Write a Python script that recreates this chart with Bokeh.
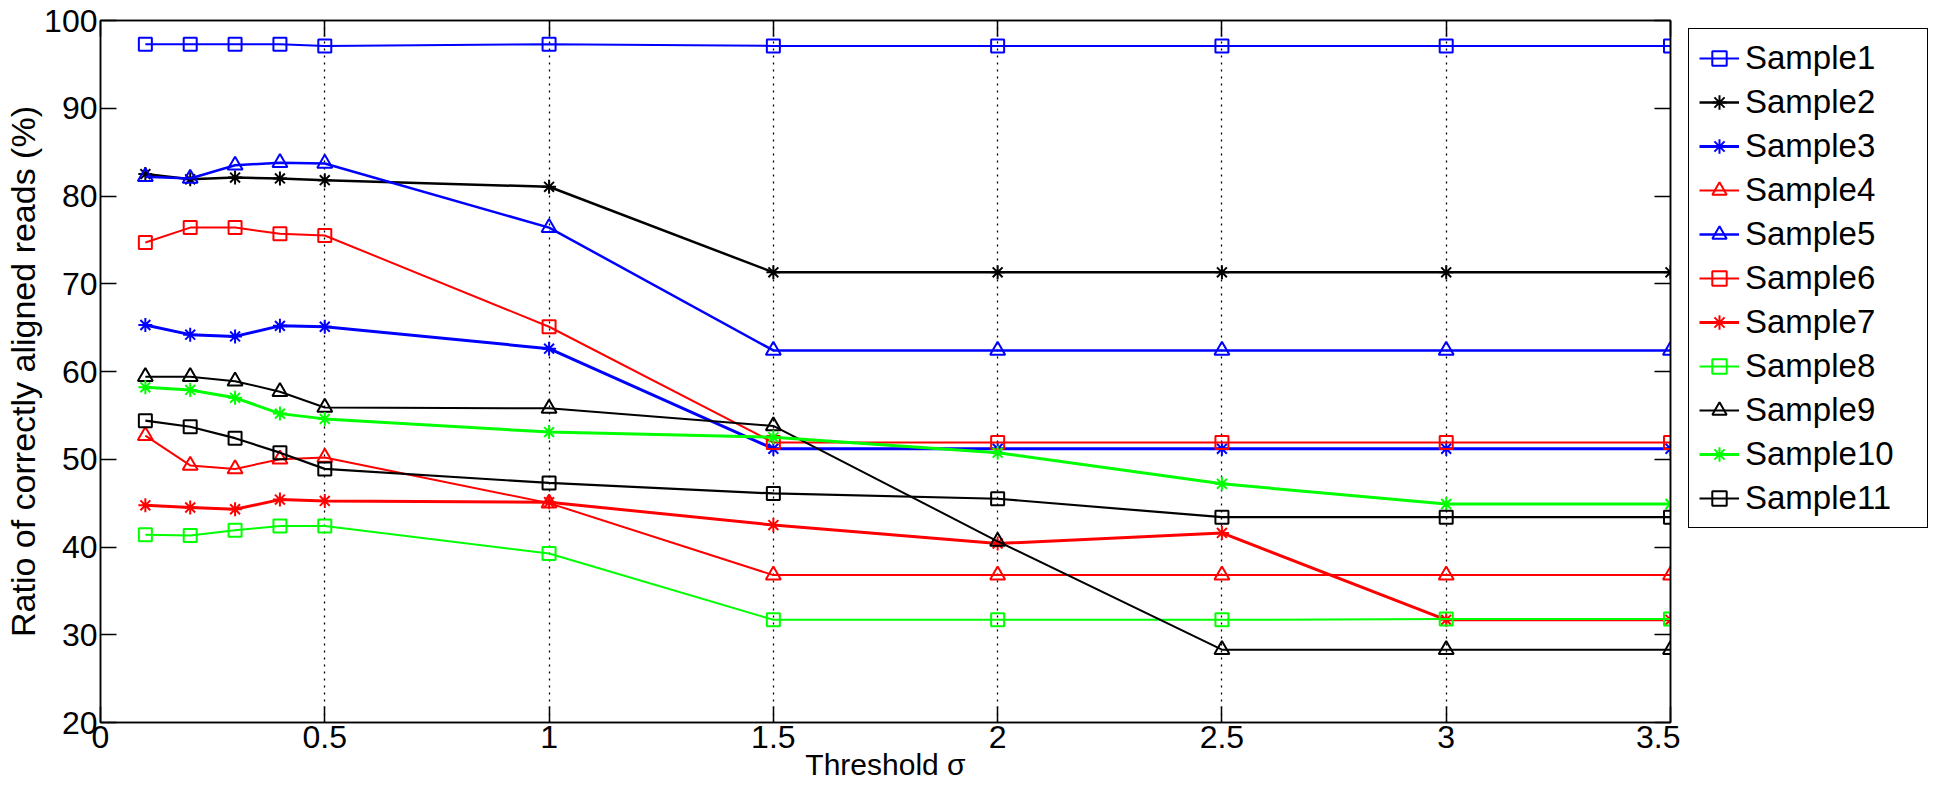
from bokeh.plotting import figure
from bokeh.layouts import row
from bokeh.models import Range1d, LinearAxis, FixedTicker, Legend, LegendItem, Title
from bokeh.embed import file_html
from bokeh.resources import INLINE

# ---- data ----
thresholds = [0.1, 0.2, 0.3, 0.4, 0.5, 1.0, 1.5, 2.0, 2.5, 3.0, 3.5]
sample1 = [97.3, 97.3, 97.3, 97.3, 97.1, 97.3, 97.1, 97.1, 97.1, 97.1, 97.1]
sample2 = [82.5, 81.9, 82.1, 82.0, 81.8, 81.05, 71.3, 71.3, 71.3, 71.3, 71.3]
sample3 = [65.3, 64.2, 64.0, 65.2, 65.1, 62.6, 51.2, 51.2, 51.2, 51.2, 51.2]
sample4 = [52.7, 49.3, 48.9, 50.0, 50.2, 45.0, 36.8, 36.8, 36.8, 36.8, 36.8]
sample5 = [82.2, 82.0, 83.5, 83.8, 83.7, 76.4, 62.4, 62.4, 62.4, 62.4, 62.4]
sample6 = [74.7, 76.4, 76.4, 75.7, 75.5, 65.1, 51.9, 51.9, 51.9, 51.9, 51.9]
sample7 = [44.75, 44.5, 44.3, 45.4, 45.25, 45.1, 42.5, 40.4, 41.6, 31.7, 31.7]
sample8 = [41.4, 41.3, 41.9, 42.4, 42.4, 39.25, 31.7, 31.7, 31.7, 31.8, 31.8]
sample9 = [59.4, 59.4, 58.9, 57.7, 55.9, 55.8, 53.8, 40.65, 28.3, 28.3, 28.3]
sample10 = [58.2, 57.9, 57.0, 55.2, 54.6, 53.1, 52.5, 50.75, 47.2, 44.9, 44.9]
sample11 = [54.4, 53.7, 52.4, 50.75, 48.9, 47.3, 46.1, 45.5, 43.4, 43.4, 43.4]

series_names = ["Sample1", "Sample2", "Sample3", "Sample4", "Sample5", "Sample6",
                "Sample7", "Sample8", "Sample9", "Sample10", "Sample11"]
series_values = [sample1, sample2, sample3, sample4, sample5, sample6,
                 sample7, sample8, sample9, sample10, sample11]

x_ticks = [0, 0.5, 1, 1.5, 2, 2.5, 3, 3.5]
x_tick_labels = ["0", "0.5", "1", "1.5", "2", "2.5", "3", "3.5"]
y_ticks = [20, 30, 40, 50, 60, 70, 80, 90, 100]
y_tick_labels = ["20", "30", "40", "50", "60", "70", "80", "90", "100"]

x_label = "Threshold σ"
y_label = "Ratio of correctly aligned reads (%)"

# ---- styles ----
BLUE, RED, GREEN, BLACK = "#0000FF", "#FF0000", "#00FF00", "#000000"
styles = [
    (BLUE, "square", 2.0),
    (BLACK, "asterisk", 2.5),
    (BLUE, "asterisk", 3.0),
    (RED, "triangle", 2.0),
    (BLUE, "triangle", 2.5),
    (RED, "square", 2.0),
    (RED, "asterisk", 3.0),
    (GREEN, "square", 2.0),
    (BLACK, "triangle", 2.0),
    (GREEN, "asterisk", 3.0),
    (BLACK, "square", 2.2),
]
marker_sizes = {"square": 13, "triangle": 15, "asterisk": 14}

FONT = "Liberation Sans"

p = figure(width=1680, height=796, output_backend="svg", toolbar_location=None,
           x_range=Range1d(0, 3.5), y_range=Range1d(20, 100),
           min_border_left=100, min_border_right=10, min_border_top=20,
           min_border_bottom=74, background_fill_color="white",
           border_fill_color="white", outline_line_color="black",
           outline_line_width=1.5)

def key(t):
    return int(t) if float(t).is_integer() else t

def style_axis(ax, ticks, labels, show_labels=True):
    ax.ticker = FixedTicker(ticks=ticks)
    ax.major_label_overrides = {key(t): l for t, l in zip(ticks, labels)}
    ax.major_tick_in = 16
    ax.major_tick_out = 0
    ax.minor_tick_line_color = None
    ax.axis_line_color = "black"
    ax.axis_line_width = 1.5
    ax.major_tick_line_width = 1.5
    ax.major_tick_line_color = "black"
    if show_labels:
        ax.major_label_text_font = FONT
        ax.major_label_text_font_size = "32px"
        ax.major_label_text_color = "black"
    else:
        ax.major_label_text_font_size = "0px"
        ax.major_label_text_alpha = 0
        ax.major_label_standoff = 0

xa = p.xaxis[0]
style_axis(xa, x_ticks, x_tick_labels)
xa.major_label_standoff = 3
xa.axis_label = x_label
xa.axis_label_text_font = FONT
xa.axis_label_text_font_size = "30px"
xa.axis_label_text_font_style = "normal"
xa.axis_label_text_color = "black"
xa.axis_label_standoff = -3

ya = p.yaxis[0]
style_axis(ya, y_ticks, y_tick_labels)
ya.major_label_standoff = 3

p.add_layout(Title(text=y_label, align="center", standoff=0,
                   text_font=FONT, text_font_size="34px",
                   text_font_style="normal", text_color="black"), "left")

top_axis = LinearAxis()
style_axis(top_axis, x_ticks, x_tick_labels, show_labels=False)
p.add_layout(top_axis, "above")
right_axis = LinearAxis()
style_axis(right_axis, y_ticks, y_tick_labels, show_labels=False)
p.add_layout(right_axis, "right")

p.xgrid.ticker = FixedTicker(ticks=x_ticks)
p.xgrid.grid_line_color = "black"
p.xgrid.grid_line_dash = "2 5"
p.xgrid.grid_line_width = 1.3
p.ygrid.visible = False

for vals, (color, marker, lw) in zip(series_values, styles):
    p.line(thresholds, vals, line_color=color, line_width=lw)
    p.scatter(thresholds, vals, marker=marker, size=marker_sizes[marker],
              line_color=color, fill_color=None, line_width=2)

# legend panel: a separate figure to the right whose view range shows none of
# the data, so only the legend (with its glyph samples) is visible
q = figure(width=254, height=796, output_backend="svg", toolbar_location=None,
           x_range=Range1d(0, 1), y_range=Range1d(0, 1),
           x_axis_type=None, y_axis_type=None, min_border=0,
           outline_line_color=None, background_fill_color="white",
           border_fill_color="white")
q.grid.visible = False

items = []
for name, vals, (color, marker, lw) in zip(series_names, series_values, styles):
    lr = q.line(thresholds, vals, line_color=color, line_width=lw)
    sr = q.scatter(thresholds, vals, marker=marker, size=marker_sizes[marker],
                   line_color=color, fill_color=None, line_width=2)
    items.append(LegendItem(label=name, renderers=[lr, sr]))

legend = Legend(items=items, location="top_left",
                label_text_font=FONT, label_text_font_size="33px",
                label_text_color="black",
                glyph_width=40, glyph_height=36, label_height=36,
                label_width=172, spacing=6, padding=10, margin=8,
                label_standoff=6,
                border_line_color="black", border_line_width=1.5,
                border_line_alpha=1.0,
                background_fill_color="white", background_fill_alpha=1.0)
q.add_layout(legend)

layout = row(p, q)
open("out.html", "w").write(file_html(layout, INLINE))
